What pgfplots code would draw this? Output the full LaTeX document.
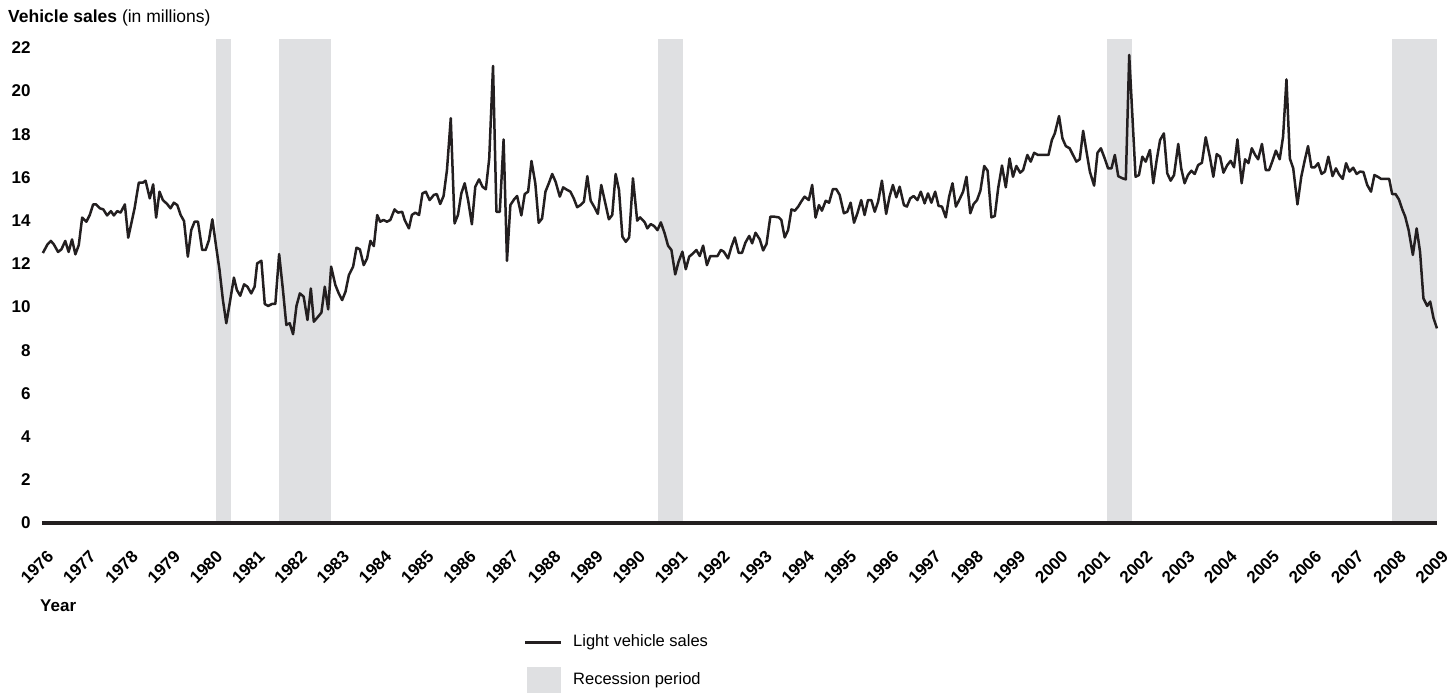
\documentclass[border=0pt]{standalone}
\usepackage{fontspec}
\setmainfont{Liberation Sans}
\usepackage{pgfplots}
\usepackage{pgfplotstable}
\pgfplotsset{compat=1.18}
\definecolor{recgray}{HTML}{DFE0E2}
\definecolor{linek}{HTML}{231F20}
\pgfplotstableread{
year sales
1976.02 12.50
1976.13 12.90
1976.21 13.06
1976.28 12.90
1976.38 12.55
1976.46 12.67
1976.55 13.06
1976.63 12.55
1976.71 13.13
1976.79 12.44
1976.87 12.87
1976.95 14.14
1977.05 13.95
1977.13 14.26
1977.21 14.75
1977.28 14.75
1977.37 14.57
1977.45 14.52
1977.54 14.24
1977.63 14.44
1977.70 14.24
1977.78 14.44
1977.86 14.37
1977.96 14.75
1978.04 13.21
1978.19 14.57
1978.29 15.76
1978.39 15.76
1978.45 15.85
1978.55 15.03
1978.63 15.68
1978.70 14.14
1978.78 15.34
1978.86 14.95
1978.96 14.77
1979.04 14.57
1979.12 14.83
1979.20 14.72
1979.28 14.26
1979.36 13.98
1979.45 12.33
1979.53 13.56
1979.61 13.95
1979.69 13.95
1979.79 12.64
1979.87 12.64
1979.95 13.10
1980.03 14.06
1980.12 12.79
1980.20 11.71
1980.28 10.32
1980.36 9.25
1980.44 10.17
1980.54 11.36
1980.61 10.79
1980.69 10.52
1980.78 11.05
1980.86 10.94
1980.95 10.63
1981.03 10.94
1981.09 12.02
1981.19 12.14
1981.27 10.14
1981.35 10.05
1981.44 10.14
1981.52 10.14
1981.61 12.45
1981.70 10.79
1981.78 9.17
1981.86 9.25
1981.94 8.74
1982.02 10.05
1982.10 10.63
1982.19 10.48
1982.28 9.40
1982.36 10.86
1982.43 9.32
1982.53 9.55
1982.61 9.74
1982.69 10.94
1982.77 9.89
1982.84 11.87
1982.94 11.02
1983.02 10.63
1983.10 10.32
1983.18 10.71
1983.26 11.48
1983.36 11.87
1983.44 12.75
1983.52 12.67
1983.61 11.94
1983.69 12.25
1983.77 13.06
1983.85 12.82
1983.93 14.26
1984.00 13.95
1984.08 14.03
1984.16 13.95
1984.24 14.03
1984.34 14.52
1984.42 14.37
1984.52 14.41
1984.58 14.03
1984.68 13.64
1984.75 14.26
1984.83 14.37
1984.92 14.26
1985.00 15.26
1985.08 15.34
1985.17 14.95
1985.27 15.19
1985.34 15.23
1985.42 14.77
1985.50 15.14
1985.58 16.34
1985.67 18.74
1985.76 13.87
1985.84 14.26
1985.92 15.26
1986.00 15.73
1986.08 14.95
1986.17 13.83
1986.25 15.57
1986.34 15.91
1986.42 15.57
1986.50 15.45
1986.58 16.88
1986.67 21.16
1986.75 14.41
1986.83 14.41
1986.92 17.76
1987.00 12.14
1987.08 14.72
1987.17 14.99
1987.24 15.14
1987.34 14.24
1987.42 15.23
1987.50 15.34
1987.58 16.76
1987.67 15.73
1987.75 13.90
1987.83 14.10
1987.91 15.34
1987.99 15.73
1988.07 16.16
1988.15 15.80
1988.25 15.11
1988.33 15.54
1988.40 15.45
1988.50 15.34
1988.58 15.03
1988.66 14.62
1988.74 14.72
1988.82 14.88
1988.90 16.06
1988.98 14.92
1989.06 14.65
1989.15 14.31
1989.23 15.65
1989.31 14.95
1989.41 14.06
1989.49 14.26
1989.57 16.16
1989.65 15.42
1989.73 13.26
1989.81 13.02
1989.89 13.22
1989.98 15.96
1990.08 14.00
1990.15 14.15
1990.26 13.92
1990.32 13.64
1990.40 13.84
1990.48 13.75
1990.56 13.56
1990.64 13.92
1990.73 13.41
1990.81 12.84
1990.89 12.64
1990.98 11.51
1991.06 12.10
1991.15 12.56
1991.23 11.75
1991.31 12.33
1991.40 12.48
1991.48 12.64
1991.56 12.36
1991.64 12.84
1991.73 11.94
1991.81 12.36
1991.90 12.36
1991.98 12.36
1992.06 12.64
1992.13 12.56
1992.23 12.25
1992.31 12.79
1992.39 13.22
1992.48 12.51
1992.56 12.51
1992.64 12.98
1992.73 13.29
1992.80 12.95
1992.88 13.44
1992.98 13.13
1993.06 12.62
1993.14 12.92
1993.23 14.18
1993.33 14.18
1993.43 14.15
1993.49 14.03
1993.57 13.22
1993.65 13.56
1993.73 14.52
1993.81 14.46
1993.89 14.65
1993.96 14.88
1994.04 15.11
1994.14 14.95
1994.22 15.65
1994.30 14.14
1994.38 14.72
1994.45 14.46
1994.54 14.92
1994.62 14.83
1994.71 15.46
1994.79 15.46
1994.87 15.19
1994.97 14.34
1995.05 14.41
1995.13 14.83
1995.21 13.90
1995.29 14.34
1995.38 14.95
1995.46 14.26
1995.54 14.95
1995.62 14.95
1995.70 14.41
1995.78 14.88
1995.87 15.85
1995.97 14.31
1996.05 15.11
1996.13 15.65
1996.21 15.08
1996.29 15.57
1996.39 14.72
1996.46 14.65
1996.54 15.03
1996.62 15.14
1996.71 14.95
1996.79 15.34
1996.88 14.80
1996.96 15.26
1997.04 14.83
1997.13 15.34
1997.21 14.68
1997.29 14.65
1997.38 14.15
1997.46 15.11
1997.54 15.73
1997.62 14.65
1997.69 14.92
1997.79 15.34
1997.87 16.03
1997.96 14.34
1998.04 14.77
1998.12 14.95
1998.20 15.39
1998.29 16.53
1998.37 16.31
1998.46 14.15
1998.54 14.21
1998.62 15.50
1998.71 16.55
1998.80 15.54
1998.89 16.88
1998.97 16.03
1999.05 16.53
1999.14 16.22
1999.21 16.34
1999.31 17.04
1999.39 16.73
1999.47 17.14
1999.56 17.04
1999.64 17.04
1999.72 17.04
1999.81 17.04
1999.89 17.73
1999.96 18.04
2000.06 18.84
2000.14 17.81
2000.22 17.45
2000.31 17.35
2000.39 17.04
2000.47 16.73
2000.55 16.84
2000.63 18.16
2000.71 17.19
2000.79 16.26
2000.89 15.62
2000.97 17.14
2001.05 17.35
2001.14 16.88
2001.22 16.42
2001.30 16.42
2001.38 17.04
2001.46 16.06
2001.56 15.96
2001.64 15.91
2001.72 21.67
2001.87 16.03
2001.95 16.11
2002.03 16.96
2002.11 16.73
2002.21 17.27
2002.29 15.73
2002.37 16.81
2002.45 17.73
2002.54 18.04
2002.62 16.19
2002.70 15.85
2002.78 16.11
2002.88 17.55
2002.95 16.42
2003.03 15.73
2003.11 16.11
2003.19 16.31
2003.27 16.16
2003.35 16.57
2003.44 16.68
2003.53 17.86
2003.63 16.93
2003.71 16.03
2003.79 17.08
2003.87 16.96
2003.95 16.22
2004.04 16.57
2004.12 16.77
2004.20 16.47
2004.28 17.76
2004.38 15.73
2004.46 16.84
2004.54 16.66
2004.62 17.35
2004.70 17.04
2004.77 16.84
2004.86 17.55
2004.95 16.34
2005.03 16.34
2005.11 16.77
2005.19 17.24
2005.28 16.84
2005.36 17.89
2005.44 20.54
2005.52 16.88
2005.60 16.42
2005.70 14.75
2005.79 16.03
2005.87 16.77
2005.95 17.45
2006.03 16.47
2006.11 16.47
2006.19 16.66
2006.27 16.16
2006.35 16.27
2006.43 16.96
2006.53 16.06
2006.61 16.42
2006.68 16.15
2006.77 15.93
2006.85 16.66
2006.93 16.27
2007.02 16.45
2007.10 16.16
2007.18 16.27
2007.26 16.25
2007.35 15.65
2007.44 15.34
2007.52 16.11
2007.60 16.03
2007.68 15.93
2007.77 15.93
2007.87 15.93
2007.94 15.23
2008.02 15.23
2008.10 14.98
2008.18 14.52
2008.25 14.18
2008.33 13.56
2008.43 12.41
2008.52 13.64
2008.60 12.56
2008.68 10.40
2008.77 10.05
2008.84 10.25
2008.92 9.48
2009.00 9.01
}\salesdata
\begin{document}
\begin{tikzpicture}[x=1pt,y=1pt]
\path[use as bounding box] (0,0) rectangle (1449,694);
\begin{axis}[
  at={(42pt,171pt)}, anchor=south west,
  scale only axis, width=1395pt, height=483.8pt,
  xmin=1976, xmax=2009, ymin=0, ymax=22.4,
  axis line style={draw=none},
  major tick length=0pt,
  xtick={1976,1977,...,2009},
  ytick={0,2,...,22},
  tick label style={font=\bfseries\fontsize{17}{17}\selectfont},
  /pgf/number format/assume math mode=true,
  /pgf/number format/1000 sep={},
  xticklabel style={anchor=center, xshift=-5pt, yshift=-44pt, rotate=45},
  yticklabel style={xshift=-8pt},
  clip=false,
]
\addplot[fill=recgray, draw=none] coordinates {(1980.12,22.4) (1980.46,22.4)} \closedcycle;
\addplot[fill=recgray, draw=none] coordinates {(1981.61,22.4) (1982.84,22.4)} \closedcycle;
\addplot[fill=recgray, draw=none] coordinates {(1990.57,22.4) (1991.16,22.4)} \closedcycle;
\addplot[fill=recgray, draw=none] coordinates {(2001.19,22.4) (2001.79,22.4)} \closedcycle;
\addplot[fill=recgray, draw=none] coordinates {(2007.94,22.4) (2009.00,22.4)} \closedcycle;
\addplot[linek, line width=2.5pt, line join=round] table[x=year, y=sales] {\salesdata};
\addplot[linek, line width=4.5pt] coordinates {(1976,0) (2009,0)};
\end{axis}
\node[anchor=base west, inner sep=0pt, font=\fontsize{17.5}{17.5}\selectfont] at (8,671) {\textbf{Vehicle sales} (in millions)};
\node[anchor=base west, inner sep=0pt, font=\bfseries\fontsize{17}{17}\selectfont] at (40,82) {Year};
\draw[linek, line width=3pt] (525,52) -- (561,52);
\node[anchor=west, inner sep=0pt, font=\fontsize{16.5}{16.5}\selectfont] at (573,52) {Light vehicle sales};
\fill[recgray] (527,1) rectangle (561,27);
\node[anchor=west, inner sep=0pt, font=\fontsize{16.5}{16.5}\selectfont] at (573,14) {Recession period};
\end{tikzpicture}
\end{document}
